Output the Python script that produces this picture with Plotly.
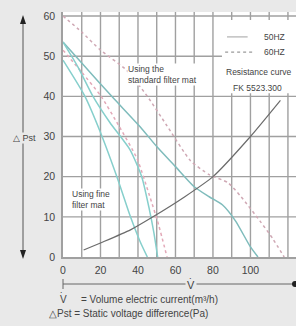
import plotly.graph_objects as go

# ---- data ----
fine_50_x = [0, 11.7, 20, 29.3, 36, 41, 45]
fine_50_y = [49, 40, 31, 19.25, 10, 4, 0]

fine_b_x = [0, 8, 16, 25, 35.7, 42, 46, 48.5, 50.5]
fine_b_y = [53.5, 47.3, 40, 33.5, 26.75, 20, 12, 6, 0]

fine_60_x = [0, 10, 20.3, 30, 39.5, 46, 51, 55.5]
fine_60_y = [51.5, 46, 40, 32.5, 24.5, 15.5, 8, 0]

std_50_x = [0, 10, 26, 41, 50, 60, 70, 78, 85, 92, 100, 104]
std_50_y = [53.5, 48.3, 40, 32.5, 27.5, 22.5, 17.5, 15, 13, 9, 2.5, 0]

std_60_x = [0, 10, 20, 34, 45, 55, 68, 78, 88, 95, 105, 112, 118]
std_60_y = [60, 56, 51.5, 46.5, 40, 33, 24, 20.5, 18.5, 15, 9, 4.5, 0]

res_x = [11, 20, 36, 48, 65, 80, 100, 116]
res_y = [1.75, 3.5, 6.75, 10, 15, 20, 30, 39]

x_ticks = [0, 20, 40, 60, 80, 100, 120]
y_ticks = [0, 10, 20, 30, 40, 50, 60]
x_grid = [10, 20, 30, 40, 50, 60, 70, 80, 90, 100, 110, 120]
y_grid = [10, 20, 30, 40, 50, 60]

W, H = 296, 326
L, T, B = 63, 12, 69
X_MAX, Y_MAX = 124.3, 61

CYAN = "#86cfcc"
CYAN2 = "#7fbcbc"
PINK = "#e3a9b8"
PINK2 = "#cfa8b4"
GRAY = "#6b6b6b"
GRID = "#a0a0a0"

fig = go.Figure()

# grid drawn as a line trace on the axes' own scales
gx, gy = [], []
for v in x_grid:
    gx += [v, v, None]
    gy += [0, Y_MAX, None]
for v in y_grid:
    gx += [0, X_MAX, None]
    gy += [v, v, None]
fig.add_trace(go.Scatter(x=gx, y=gy, mode="lines", line=dict(color=GRID, width=1.4),
                         hoverinfo="skip", showlegend=False, connectgaps=False))


def add(x, y, color, dash="solid", width=1.5):
    fig.add_trace(go.Scatter(x=x, y=y, mode="lines",
                             line=dict(color=color, width=width, dash=dash, shape="spline", smoothing=0.6),
                             hoverinfo="skip", showlegend=False))


add(std_60_x, std_60_y, PINK2, dash="dot")
add(std_50_x, std_50_y, CYAN2)
add(fine_60_x, fine_60_y, PINK, dash="dot")
add(fine_b_x, fine_b_y, CYAN)
add(fine_50_x, fine_50_y, CYAN)
add(res_x, res_y, GRAY, width=1.2)

# legend box (white area hiding grid)
fig.add_shape(type="rect", x0=84.8, x1=X_MAX, y0=40.8, y1=59, xref="x", yref="y",
              fillcolor="white", line=dict(width=0), layer="above")
# legend samples
fig.add_shape(type="line", x0=87.5, x1=98.5, y0=54.8, y1=54.8, xref="x", yref="y",
              line=dict(color="#b0b0b0", width=1.2), layer="above")
fig.add_shape(type="line", x0=86.5, x1=101.5, y0=51.0, y1=51.0, xref="x", yref="y",
              line=dict(color="#9a9a9a", width=1.2, dash="dot"), layer="above")

fnt = "Liberation Sans, Arial, sans-serif"
tc = "#444444"


def note(x, y, text, size=8.5, xanchor="center", ref="data", family=fnt, **kw):
    r = dict(xref="x", yref="y") if ref == "data" else dict(xref="paper", yref="paper")
    fig.add_annotation(x=x, y=y, text=text, showarrow=False, xanchor=xanchor, yanchor="middle",
                       font=dict(family=family, size=size, color=tc), **r, **kw)


note(106, 54.8, "50HZ", xanchor="left")
note(106, 51.0, "60HZ", xanchor="left")
note(104.5, 46.1, "Resistance curve")
note(104, 42.1, "FK 5523.300")
note(34, 45.4, "Using the<br>standard filter mat", xanchor="left", align="left",
     bgcolor="white", borderpad=0)
note(4.3, 14.2, "Using fine<br>filter mat", xanchor="left", align="left",
     bgcolor="white", borderpad=0)

# left vertical arrow
pw = W - L
ph = H - T - B


def px(xp):
    return (xp - L) / pw


def py(yp):
    return (H - B - yp) / ph


ax_x = px(23)
fig.add_shape(type="line", xref="paper", yref="paper", x0=ax_x, x1=ax_x, y0=py(255), y1=py(18),
              line=dict(color="#555555", width=1))
fig.add_shape(type="path", xref="paper", yref="paper",
              path=f"M {px(20)} {py(24)} L {px(26)} {py(24)} L {px(23)} {py(15)} Z",
              fillcolor="#222222", line=dict(width=0))
fig.add_shape(type="path", xref="paper", yref="paper",
              path=f"M {px(20)} {py(250)} L {px(26)} {py(250)} L {px(23)} {py(259)} Z",
              fillcolor="#222222", line=dict(width=0))
note(px(24), py(138), "△ Pst", size=9, ref="paper", bgcolor="#e9e9e9", borderpad=0)

# bottom horizontal arrow
by = py(284)
fig.add_shape(type="line", xref="paper", yref="paper", x0=0, x1=px(296), y0=by, y1=by,
              line=dict(color="#666666", width=1))
fig.add_shape(type="line", xref="paper", yref="paper", x0=0, x1=0, y0=py(279), y1=py(289),
              line=dict(color="#666666", width=1))
fig.add_shape(type="circle", xref="paper", yref="paper", x0=px(292), x1=px(298), y0=py(281), y1=py(287),
              fillcolor="#222222", line=dict(width=0))
note(px(191), py(285), "V", size=11, ref="paper", bgcolor="#e9e9e9", borderpad=1)
note(px(191), py(282), "˙", size=11, ref="paper")

note(px(58), py(299), "V", size=10, xanchor="left", ref="paper")
note(px(61.5), py(296), "˙", size=10, ref="paper")
note(px(79), py(299), "= Volume electric current(m³/h)", size=10, xanchor="left", ref="paper")
note(px(47), py(313), "△Pst = Static voltage difference(Pa)", size=10, xanchor="left", ref="paper")

fig.update_layout(
    width=W, height=H,
    margin=dict(l=L, r=0, t=T, b=B, pad=0),
    paper_bgcolor="#e9e9e9", plot_bgcolor="white",
    showlegend=False,
    font=dict(family=fnt, color=tc),
)
fig.update_xaxes(range=[0, X_MAX], tickmode="array", tickvals=x_ticks,
                 ticktext=[str(v) for v in x_ticks], showgrid=False,
                 zeroline=False, showline=True, linecolor=GRID, linewidth=1.5,
                 tickfont=dict(size=10.5, color=tc),
                 ticks="outside", ticklen=3, tickcolor="rgba(0,0,0,0)")
fig.update_yaxes(range=[0, Y_MAX], tickmode="array", tickvals=y_ticks, ticktext=[str(v) for v in y_ticks],
                 showgrid=False, zeroline=False, showline=True, linecolor=GRID, linewidth=1.5,
                 tickfont=dict(size=10.5, color=tc),
                 ticks="outside", ticklen=4, tickcolor="rgba(0,0,0,0)")

fig.write_html("out.html", config={"displayModeBar": False},
               post_script="document.body.style.margin='0';document.body.style.overflow='hidden';")
